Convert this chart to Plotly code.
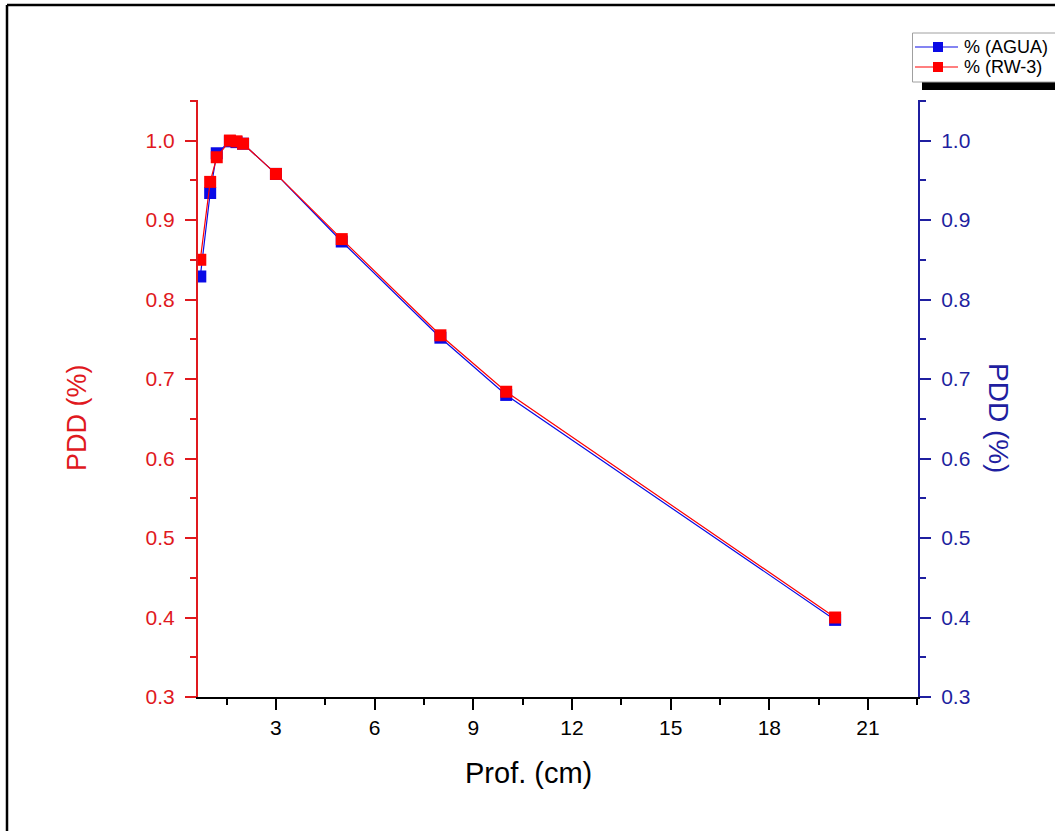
import plotly.graph_objects as go

# Depth (cm) and percentage depth dose for both phantoms
depth_cm = [0.7, 1.0, 1.2, 1.6, 1.8, 2.0, 3, 5, 8, 10, 20]
pdd_agua = [0.829, 0.934, 0.984, 0.999, 0.998, 0.996, 0.958, 0.873, 0.752, 0.680, 0.397]
pdd_rw3 = [0.850, 0.948, 0.979, 1.000, 0.999, 0.996, 0.958, 0.876, 0.755, 0.684, 0.400]

series_names = ["% (AGUA)", "% (RW-3)"]
x_ticks = [3, 6, 9, 12, 15, 18, 21]
y_ticks = [0.3, 0.4, 0.5, 0.6, 0.7, 0.8, 0.9, 1.0]

FONT = "Liberation Sans, Arial, sans-serif"
RED = "#e0191e"
BLUE = "#1f1fa0"
RED_MK = "#ff0000"
BLUE_MK = "#0a0ae6"

W, H = 1055, 831
L, R, T, B = 198, 918, 100, 697  # plot area in pixels


def px(x):
    return (x - L) / (R - L)


def py(y):
    return (B - y) / (B - T)


fig = go.Figure()
# water series sits on the lower (left) axis layer so the RW-3 squares draw over it
fig.add_trace(go.Scatter(
    x=depth_cm, y=pdd_agua, name=series_names[0], mode="lines+markers",
    line=dict(color=BLUE_MK, width=1.2),
    marker=dict(symbol="square", size=12, color=BLUE_MK, line=dict(width=0)),
    yaxis="y",
))
fig.add_trace(go.Scatter(
    x=depth_cm, y=pdd_rw3, name=series_names[1], mode="lines+markers",
    line=dict(color=RED_MK, width=1.2),
    marker=dict(symbol="square", size=12, color=RED_MK, line=dict(width=0)),
    yaxis="y2",
))

yrange = [0.3, 1.051]


def y_axis(color, **extra):
    return dict(
        range=yrange, tickvals=y_ticks, ticktext=[f"{v:.1f}" for v in y_ticks],
        ticks="outside", ticklen=11, tickwidth=2, showline=True, linewidth=2,
        linecolor=color, tickcolor=color, showgrid=False, zeroline=False,
        ticklabelstandoff=6,
        minor=dict(dtick=0.05, tick0=0.3, ticks="outside", ticklen=6,
                   tickwidth=2, tickcolor=color),
        tickfont=dict(family=FONT, size=21, color=color),
        **extra,
    )


fig.update_layout(
    width=W, height=H,
    margin=dict(l=L, r=W - R, t=T, b=H - B),
    paper_bgcolor="white", plot_bgcolor="white",
    font=dict(family=FONT),
    showlegend=False,
    xaxis=dict(
        range=[0.63, 22.52], tickvals=x_ticks, ticks="outside", ticklen=11,
        tickwidth=2, showline=True, linewidth=2, linecolor="black",
        tickcolor="black", showgrid=False, zeroline=False,
        minor=dict(dtick=1.5, tick0=0, ticks="outside", ticklen=6, tickwidth=2,
                   tickcolor="black"),
        tickfont=dict(family=FONT, size=21, color="black"),
    ),
    yaxis=y_axis(RED),
    yaxis2=y_axis(BLUE, overlaying="y", side="right"),
)

# axis titles
fig.add_annotation(text="Prof. (cm)", x=px(528), y=py(773), xref="paper", yref="paper",
                   xanchor="center", yanchor="middle", showarrow=False,
                   font=dict(family=FONT, size=29, color="black"))
fig.add_annotation(text="PDD (%)", x=px(77), y=py(417), xref="paper", yref="paper",
                   xanchor="center", yanchor="middle", showarrow=False, textangle=-90,
                   font=dict(family=FONT, size=27, color=RED))
fig.add_annotation(text="PDD (%)", x=px(999), y=py(418), xref="paper", yref="paper",
                   xanchor="center", yanchor="middle", showarrow=False, textangle=90,
                   font=dict(family=FONT, size=28, color=BLUE))

# page frame
fig.add_shape(type="line", xref="paper", yref="paper", x0=px(7), x1=px(7),
              y0=py(5), y1=py(H + 5), line=dict(color="black", width=2.5))
fig.add_shape(type="line", xref="paper", yref="paper", x0=px(7), x1=px(W + 5),
              y0=py(5), y1=py(5), line=dict(color="black", width=2.5))

# legend box with drop shadow
fig.add_shape(type="rect", xref="paper", yref="paper", x0=px(922), x1=px(W + 5),
              y0=py(82), y1=py(90), fillcolor="black", line=dict(width=0))
fig.add_shape(type="rect", xref="paper", yref="paper", x0=px(912.5), x1=px(W + 5),
              y0=py(33), y1=py(82), fillcolor="white",
              line=dict(color="#a0a0a0", width=1))
legend_rows = [47, 67]
legend_colors = [BLUE_MK, RED_MK]
for name, yc, col in zip(series_names, legend_rows, legend_colors):
    fig.add_shape(type="line", xref="paper", yref="paper", x0=px(915), x1=px(958),
                  y0=py(yc), y1=py(yc), line=dict(color=col, width=1.2))
    fig.add_shape(type="rect", xref="paper", yref="paper", x0=px(933), x1=px(943),
                  y0=py(yc + 5), y1=py(yc - 5), fillcolor=col, line=dict(width=0))
    fig.add_annotation(text=name, x=px(962), y=py(yc), xref="paper", yref="paper",
                       xanchor="left", yanchor="middle", showarrow=False,
                       font=dict(family=FONT, size=18, color="black"))

fig.write_html("out.html")
